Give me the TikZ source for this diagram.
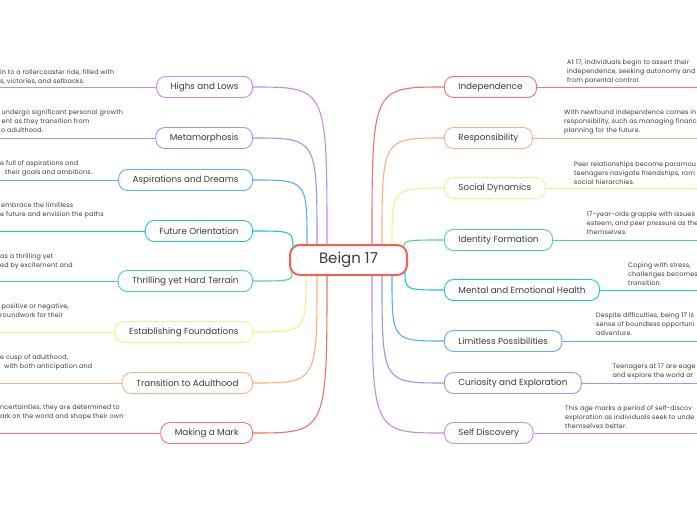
\documentclass[tikz,border=0pt]{standalone}
\usepackage{fontspec}
\setmainfont{Poppins}
\newfontfamily\notefont[LetterSpace=2.5]{Poppins}
\definecolor{cRoot}{HTML}{F45E58}
\definecolor{cRed}{HTML}{F7716B}
\definecolor{cOrange}{HTML}{FFAF7A}
\definecolor{cYellow}{HTML}{F8EE88}
\definecolor{cTeal}{HTML}{4CD5A4}
\definecolor{cCyan}{HTML}{22C6D0}
\definecolor{cBlue}{HTML}{5CAEF4}
\definecolor{cViolet}{HTML}{A093F5}
\definecolor{cPurple}{HTML}{C68BE8}
\definecolor{cText}{HTML}{3A3A3A}

\begin{document}
\begin{tikzpicture}[x=1pt,y=-1pt,
    topic/.style={draw,rounded corners=9pt,fill=white,line width=0.9pt,minimum height=21pt,
      inner xsep=14pt,font=\fontsize{8.8}{10}\selectfont,text=cText},
    note/.style={align=left,inner sep=0pt,anchor=north west,font=\notefont\fontsize{6.4}{9}\selectfont,text=cText},
    link/.style={line width=1.1pt}]
    \useasboundingbox[fill=white] (0,0) rectangle (697,520);
    \clip (0,0) rectangle (697,520);
    \coordinate (edgeL) at (0,0);
    \coordinate (edgeR) at (697,0);

    % centre
    \node[draw=cRoot,line width=2pt,rounded corners=10pt,fill=white,minimum width=117pt,minimum height=30pt,
      font=\fontsize{15}{17}\selectfont,text=cText] (root) at (348.5,260) {Beign 17};

    % left topics
    \node[topic,draw=cPurple,anchor=east] (highs) at (253,87) {Highs and Lows};
    \node[topic,draw=cViolet,anchor=east] (meta) at (253,138) {Metamorphosis};
    \node[topic,draw=cBlue,anchor=east] (dreams) at (253,180) {Aspirations and Dreams};
    \node[topic,draw=cCyan,anchor=east] (future) at (253,231) {Future Orientation};
    \node[topic,draw=cTeal,anchor=east] (terrain) at (253,281) {Thrilling yet Hard Terrain};
    \node[topic,draw=cYellow,anchor=east] (found) at (253,332) {Establishing Foundations};
    \node[topic,draw=cOrange,anchor=east] (adult) at (253,383) {Transition to Adulthood};
    \node[topic,draw=cRed,anchor=east] (mark) at (253,433) {Making a Mark};

    % right topics
    \node[topic,draw=cRed,anchor=west] (indep) at (444,87) {Independence};
    \node[topic,draw=cOrange,anchor=west] (resp) at (444,138) {Responsibility};
    \node[topic,draw=cYellow,anchor=west] (social) at (444,188) {Social Dynamics};
    \node[topic,draw=cTeal,anchor=west] (ident) at (444,240) {Identity Formation};
    \node[topic,draw=cCyan,anchor=west] (health) at (444,290) {Mental and Emotional Health};
    \node[topic,draw=cBlue,anchor=west] (limit) at (444,341) {Limitless Possibilities};
    \node[topic,draw=cViolet,anchor=west] (curio) at (444,383) {Curiosity and Exploration};
    \node[topic,draw=cPurple,anchor=west] (self) at (444,433) {Self Discovery};

    % notes, left
    \node[note] (highsNote) at (0,69) {in to a rollercoaster ride, filled with\\s, victories, and setbacks.};
    \node[note] (metaNote) at (1.5,109.7) {undergo significant personal growth\\ent as they transition from\\\hspace{-0.6pt}o adulthood.};
    \node[note] (dreamsNote) at (0,160) {e full of aspirations and\\\hspace{5pt}their goals and ambitions.};
    \node[note] (futureNote) at (0,202) {\hspace{1pt}embrace the limitless\\e future and envision the paths};
    \node[note] (terrainNote) at (0,253) {as a thrilling yet\\ed by excitement and};
    \node[note] (foundNote) at (0,303) {\hspace{1.5pt}positive or negative,\\roundwork for their};
    \node[note] (adultNote) at (0,354.7) {e cusp of adulthood,\\\hspace{4pt}with both anticipation and};
    \node[note] (markNote) at (0,404) {ncertainties, they are determined to\\ark on the world and shape their own};

    % notes, right
    \node[note] (indepNote) at (567,59) {At 17, individuals begin to assert their\\independence, seeking autonomy and\\from parental control.};
    \node[note] (respNote) at (564,109.7) {With newfound independence comes in\\responsibility, such as managing financ\\planning for the future.};
    \node[note] (socialNote) at (574,161) {Peer relationships become paramou\\teenagers navigate friendships, rom\\social hierarchies.};
    \node[note] (identNote) at (586.7,211.3) {17-year-olds grapple with issues\\esteem, and peer pressure as the\\themselves.};
    \node[note] (healthNote) at (628,262.7) {Coping with stress,\\challenges becomes\\transition.};
    \node[note] (limitNote) at (596,312) {Despite difficulties, being 17 is\\sense of boundless opportuni\\adventure.};
    \node[note] (curioNote) at (612.3,363.7) {Teenagers at 17 are eage\\and explore the world ar};
    \node[note] (selfNote) at (565,405.3) {This age marks a period of self-discov\\exploration as individuals seek to unde\\themselves better.};

    % start points on the centre box
    \coordinate (sHighs) at ([xshift=-21.5pt]root.north);
    \coordinate (sMeta) at ([xshift=-31.5pt]root.north);
    \coordinate (sDreams) at ([xshift=-41.5pt]root.north);
    \coordinate (sFuture) at ([xshift=4pt,yshift=11pt]root.west);
    \coordinate (sTerrain) at ([xshift=3pt,yshift=-11pt]root.west);
    \coordinate (sFound) at ([xshift=-42.5pt]root.south);
    \coordinate (sAdult) at ([xshift=-31.5pt]root.south);
    \coordinate (sMark) at ([xshift=-21.5pt]root.south);
    \coordinate (sIndep) at ([xshift=23.5pt]root.north);
    \coordinate (sResp) at ([xshift=33.5pt]root.north);
    \coordinate (sSocial) at ([xshift=43.5pt]root.north);
    \coordinate (sIdent) at ([xshift=-4pt,yshift=11pt]root.east);
    \coordinate (sHealth) at ([xshift=-3pt,yshift=-11pt]root.east);
    \coordinate (sLimit) at ([xshift=43.5pt]root.south);
    \coordinate (sCurio) at ([xshift=33.5pt]root.south);
    \coordinate (sSelf) at ([xshift=23.5pt]root.south);

    % branches, left
    \draw[link,cPurple] (sHighs) .. controls (sHighs |- highs.east) .. (highs.east);
    \draw[link,cViolet] (sMeta) .. controls (sMeta |- meta.east) .. (meta.east);
    \draw[link,cBlue] (sDreams) .. controls (sDreams |- dreams.east) .. (dreams.east);
    \draw[link,cCyan] (sFuture) .. controls (sFuture |- future.east) .. (future.east);
    \draw[link,cTeal] (sTerrain) .. controls (sTerrain |- terrain.east) .. (terrain.east);
    \draw[link,cYellow] (sFound) .. controls (sFound |- found.east) .. (found.east);
    \draw[link,cOrange] (sAdult) .. controls (sAdult |- adult.east) .. (adult.east);
    \draw[link,cRed] (sMark) .. controls (sMark |- mark.east) .. (mark.east);

    % branches, right
    \draw[link,cRed] (sIndep) .. controls (sIndep |- indep.west) .. (indep.west);
    \draw[link,cOrange] (sResp) .. controls (sResp |- resp.west) .. (resp.west);
    \draw[link,cYellow] (sSocial) .. controls (sSocial |- social.west) .. (social.west);
    \draw[link,cTeal] (sIdent) .. controls (sIdent |- ident.west) .. (ident.west);
    \draw[link,cCyan] (sHealth) .. controls (sHealth |- health.west) .. (health.west);
    \draw[link,cBlue] (sLimit) .. controls (sLimit |- limit.west) .. (limit.west);
    \draw[link,cViolet] (sCurio) .. controls (sCurio |- curio.west) .. (curio.west);
    \draw[link,cPurple] (sSelf) .. controls (sSelf |- self.west) .. (self.west);

    % leaders to the notes
    \draw[cPurple] (highs.west) -- (highs.west -| edgeL);
    \draw[cViolet] (meta.west) -- (meta.west -| edgeL);
    \draw[cBlue] (dreams.west) -- (dreams.west -| edgeL);
    \draw[cCyan] (future.west) -- (future.west -| edgeL);
    \draw[cTeal] (terrain.west) -- (terrain.west -| edgeL);
    \draw[cYellow] (found.west) -- (found.west -| edgeL);
    \draw[cOrange] (adult.west) -- (adult.west -| edgeL);
    \draw[cRed] (mark.west) -- (mark.west -| edgeL);
    \draw[cRed] (indep.east) -- (indep.east -| edgeR);
    \draw[cOrange] (resp.east) -- (resp.east -| edgeR);
    \draw[cYellow] (social.east) -- (social.east -| edgeR);
    \draw[cTeal] (ident.east) -- (ident.east -| edgeR);
    \draw[cCyan] (health.east) -- (health.east -| edgeR);
    \draw[cBlue] (limit.east) -- (limit.east -| edgeR);
    \draw[cViolet] (curio.east) -- (curio.east -| edgeR);
    \draw[cPurple] (self.east) -- (self.east -| edgeR);
  \end{tikzpicture}
\end{document}
